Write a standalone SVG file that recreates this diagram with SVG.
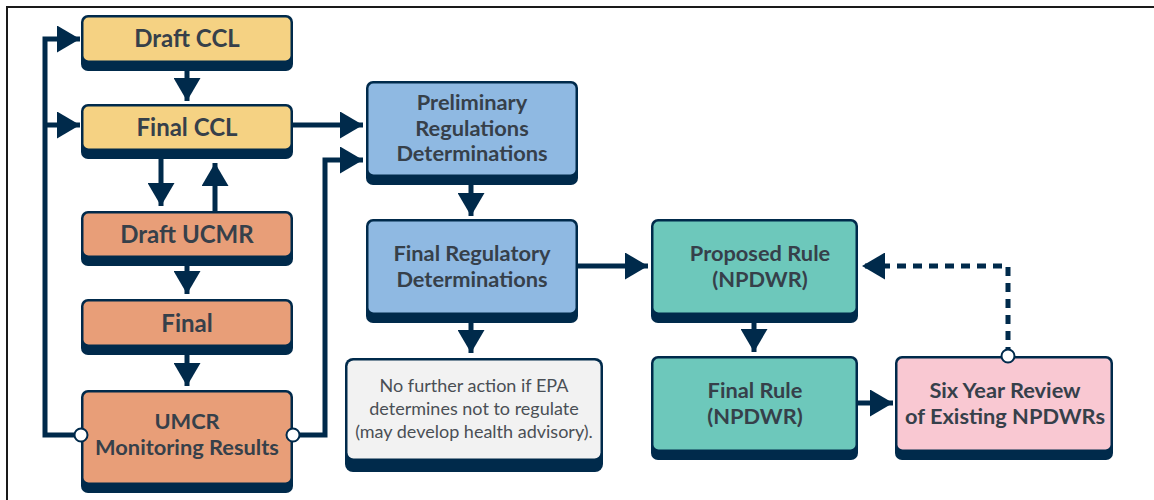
<svg xmlns="http://www.w3.org/2000/svg" width="1154" height="500" viewBox="0 0 1154 500">
<style>
.sh{fill:#002a4b}
.t{font-family:Lato,"Open Sans",sans-serif;font-weight:bold;font-size:21.8px;fill:#36404a;text-anchor:middle}
.b{font-size:24px}
.n{font-family:Lato,"Open Sans",sans-serif;font-size:18px;fill:#4a4f55;text-anchor:middle}
.c{fill:none;stroke:#002a4b;stroke-width:5}
.d{stroke-dasharray:9 7}
.dot{fill:#fff;stroke:#002a4b;stroke-width:2}
.yel{fill:#f5d283}.org{fill:#e89e78}.blu{fill:#8fb9e2}.tea{fill:#6dc8bb}.pnk{fill:#f9c8d2}.gry{fill:#f2f2f2}
</style>
<defs>
<marker id="a" markerUnits="userSpaceOnUse" markerWidth="24" markerHeight="27" refX="23" refY="13.5" orient="auto" viewBox="0 0 24 27">
<path d="M0,0 L23,13.5 L0,27 z" fill="#002a4b"/>
</marker>
</defs>
<rect x="0" y="0" width="1154" height="500" fill="#fff"/>
<path d="M7,500 L7,7 L1154,7" fill="none" stroke="#1a1a1a" stroke-width="2"/>
<g id="connectors">
<path class="c" d="M81,435 L45,435 L45,39 L80,39" marker-end="url(#a)"/>
<path class="c" d="M45,125 L80,125" marker-end="url(#a)"/>
<path class="c" d="M293,435 L325,435 L325,160 L363,160" marker-end="url(#a)"/>
<path class="c" d="M293,125 L363,125" marker-end="url(#a)"/>
<path class="c" d="M187,71 L187,101" marker-end="url(#a)"/>
<path class="c" d="M161,159 L161,206" marker-end="url(#a)"/>
<path class="c" d="M215,211 L215,163" marker-end="url(#a)"/>
<path class="c" d="M187,266 L187,294" marker-end="url(#a)"/>
<path class="c" d="M187,355 L187,386" marker-end="url(#a)"/>
<path class="c" d="M471,185 L471,216" marker-end="url(#a)"/>
<path class="c" d="M471,323 L471,353" marker-end="url(#a)"/>
<path class="c" d="M578,266 L648,266" marker-end="url(#a)"/>
<path class="c" d="M754,323 L754,352" marker-end="url(#a)"/>
<path class="c" d="M858,403 L893,403" marker-end="url(#a)"/>
<path class="c d" d="M1008,356 L1008,266 L862,266" marker-end="url(#a)"/>
</g>
<g id="draft-ccl">
<rect class="sh" x="81" y="15" width="212" height="56" rx="7"/>
<rect class="yel" x="83.5" y="17.5" width="207" height="43" rx="5"/>
<text class="t b" x="187" y="47">Draft CCL</text>
</g>
<g id="final-ccl">
<rect class="sh" x="81" y="104" width="212" height="55" rx="7"/>
<rect class="yel" x="83.5" y="106.5" width="207" height="42" rx="5"/>
<text class="t b" x="187" y="136">Final CCL</text>
</g>
<g id="draft-ucmr">
<rect class="sh" x="81" y="211" width="212" height="55" rx="7"/>
<rect class="org" x="83.5" y="213.5" width="207" height="42" rx="5"/>
<text class="t b" x="187" y="243">Draft UCMR</text>
</g>
<g id="final">
<rect class="sh" x="81" y="299" width="212" height="56" rx="7"/>
<rect class="org" x="83.5" y="301.5" width="207" height="43" rx="5"/>
<text class="t b" x="187" y="332">Final</text>
</g>
<g id="umcr">
<rect class="sh" x="81" y="390" width="212" height="103" rx="7"/>
<rect class="org" x="83.5" y="392.5" width="207" height="90" rx="5"/>
<text class="t" x="187" y="429">UMCR</text>
<text class="t" x="187" y="455">Monitoring Results</text>
<circle class="dot" cx="81" cy="435" r="6.5"/>
<circle class="dot" cx="293" cy="435" r="6.5"/>
</g>
<g id="prelim">
<rect class="sh" x="366" y="81" width="212" height="104" rx="7"/>
<rect class="blu" x="368.5" y="83.5" width="207" height="91" rx="5"/>
<text class="t" x="472" y="110">Preliminary</text>
<text class="t" x="472" y="135.5">Regulations</text>
<text class="t" x="472" y="161">Determinations</text>
</g>
<g id="final-reg">
<rect class="sh" x="366" y="219" width="212" height="104" rx="7"/>
<rect class="blu" x="368.5" y="221.5" width="207" height="91" rx="5"/>
<text class="t" x="472" y="261">Final Regulatory</text>
<text class="t" x="472" y="287">Determinations</text>
</g>
<g id="no-further">
<rect class="sh" x="345" y="358" width="258" height="114" rx="8"/>
<rect class="gry" x="347.5" y="360.5" width="253" height="98" rx="6"/>
<text class="n" x="474" y="392">No further action if EPA</text>
<text class="n" x="474" y="415">determines not to regulate</text>
<text class="n" x="474" y="438">(may develop health advisory).</text>
</g>
<g id="proposed">
<rect class="sh" x="651" y="219" width="207" height="104" rx="7"/>
<rect class="tea" x="653.5" y="221.5" width="202" height="91" rx="5"/>
<text class="t" x="760" y="261">Proposed Rule</text>
<text class="t" x="760" y="287">(NPDWR)</text>
</g>
<g id="final-rule">
<rect class="sh" x="651" y="356" width="207" height="104" rx="7"/>
<rect class="tea" x="653.5" y="358.5" width="202" height="91" rx="5"/>
<text class="t" x="755" y="398">Final Rule</text>
<text class="t" x="755" y="424">(NPDWR)</text>
</g>
<g id="six-year">
<rect class="sh" x="895" y="356" width="218" height="104" rx="7"/>
<rect class="pnk" x="897.5" y="358.5" width="213" height="91" rx="5"/>
<text class="t" x="1005" y="398">Six Year Review</text>
<text class="t" x="1005" y="424">of Existing NPDWRs</text>
<circle class="dot" cx="1008" cy="356" r="6.5"/>
</g>
</svg>
